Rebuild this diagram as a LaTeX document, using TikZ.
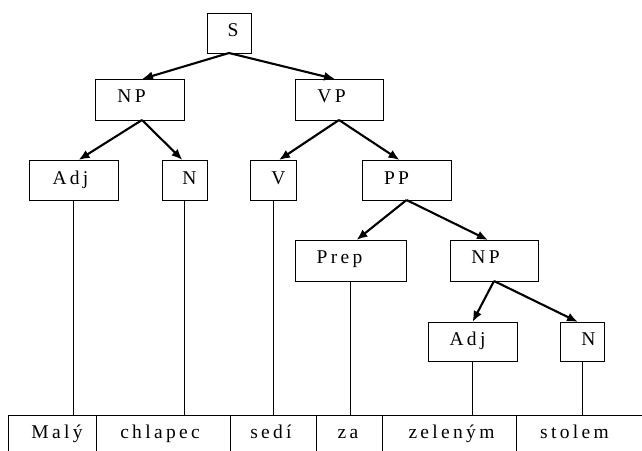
\documentclass[tikz,border=0pt]{standalone}
\usepackage{fontspec}
\setmainfont{Liberation Serif}[LetterSpace=17]
\usetikzlibrary{arrows.meta,calc}
\begin{document}
\begin{tikzpicture}[x=1pt,y=-1pt,
  box/.style 2 args={draw,line width=1pt,minimum width=#1,minimum height=#2,inner sep=0pt,outer sep=0pt,anchor=north west},
  lbl/.style={anchor=base,inner sep=0pt,font=\fontsize{19.5}{22}\selectfont},
  arr/.style={line width=2.1pt,-{Latex[length=11pt,width=9pt]}},
  stem/.style={line width=1pt}]
\fill[white] (0,0) rectangle (642,450);
\useasboundingbox (0,0) rectangle (642,450);
% phrase boxes
\node[box={44}{40}] (s) at (207,13) {};
\node[box={89}{41}] (np) at (95,79) {};
\node[box={88}{41}] (vp) at (295,79) {};
\node[box={89}{40}] (adj) at (29,160) {};
\node[box={45}{40}] (n) at (162,160) {};
\node[box={46}{40}] (v) at (250,160) {};
\node[box={89}{40}] (pp) at (362,160) {};
\node[box={111}{41}] (prep) at (295,240) {};
\node[box={88}{41}] (npb) at (450,240) {};
\node[box={89}{39}] (adjb) at (428,322) {};
\node[box={44}{39}] (nb) at (560,322) {};
% labels
\node[lbl] (ts) at ($(s.north)+(4,23)$) {S};
\node[lbl] (tnp) at ($(np.north)+(-8,23)$) {NP};
\node[lbl] (tvp) at ($(vp.north)+(-7.5,23)$) {VP};
\node[lbl] (tadj) at ($(adj.north)+(-3,24)$) {Adj};
\node[lbl] (tn) at ($(n.north)+(5,24)$) {N};
\node[lbl] (tv) at ($(v.north)+(5.5,24)$) {V};
\node[lbl] (tpp) at ($(pp.north)+(-10,24)$) {PP};
\node[lbl] (tprep) at ($(prep.north)+(-11,23)$) {Prep};
\node[lbl] (tnpb) at ($(npb.north)+(-8.5,23)$) {NP};
\node[lbl] (tadjb) at ($(adjb.north)+(-5,23)$) {Adj};
\node[lbl] (tnb) at ($(nb.north)+(6.5,23)$) {N};
% word cells
\node[box={88}{50}] (w1) at (8,415) {};
\node[box={134}{50}] (w2) at (96,415) {};
\node[box={86}{50}] (w3) at (230,415) {};
\node[box={66}{50}] (w4) at (316,415) {};
\node[box={134}{50}] (w5) at (382,415) {};
\node[box={140}{50}] (w6) at (516,415) {};
\node[lbl] (t1) at (57,438) {Malý};
\node[lbl] (t2) at (160,438) {chlapec};
\node[lbl] (t3) at (271,438) {sedí};
\node[lbl] (t4) at (348,438) {za};
\node[lbl] (t5) at (451.5,438) {zeleným};
\node[lbl] (t6) at (574.5,438) {stolem};
% arrows
\draw[arr] (s.south) -- ([xshift=2.5]np.north);
\draw[arr] (s.south) -- ([xshift=-4]vp.north);
\draw[arr] ([xshift=2.5]np.south) -- ([xshift=5]adj.north);
\draw[arr] ([xshift=2.5]np.south) -- ([xshift=-2]n.north);
\draw[arr] (vp.south) -- ([xshift=6]v.north);
\draw[arr] (vp.south) -- ([xshift=-7]pp.north);
\draw[arr] (pp.south) -- ([xshift=6]prep.north);
\draw[arr] (pp.south) -- ([xshift=-6]npb.north);
\draw[arr] (npb.south) -- ([xshift=0]adjb.north);
\draw[arr] (npb.south) -- ([xshift=-4]nb.north);
% stems
\draw[stem] (adj.south) -- (adj.south |- w1.north);
\draw[stem] (n.south) -- (n.south |- w2.north);
\draw[stem] (v.south) -- (v.south |- w3.north);
\draw[stem] (prep.south) -- (prep.south |- w4.north);
\draw[stem] (adjb.south) -- (adjb.south |- w5.north);
\draw[stem] (nb.south) -- (nb.south |- w6.north);
\end{tikzpicture}
\end{document}
